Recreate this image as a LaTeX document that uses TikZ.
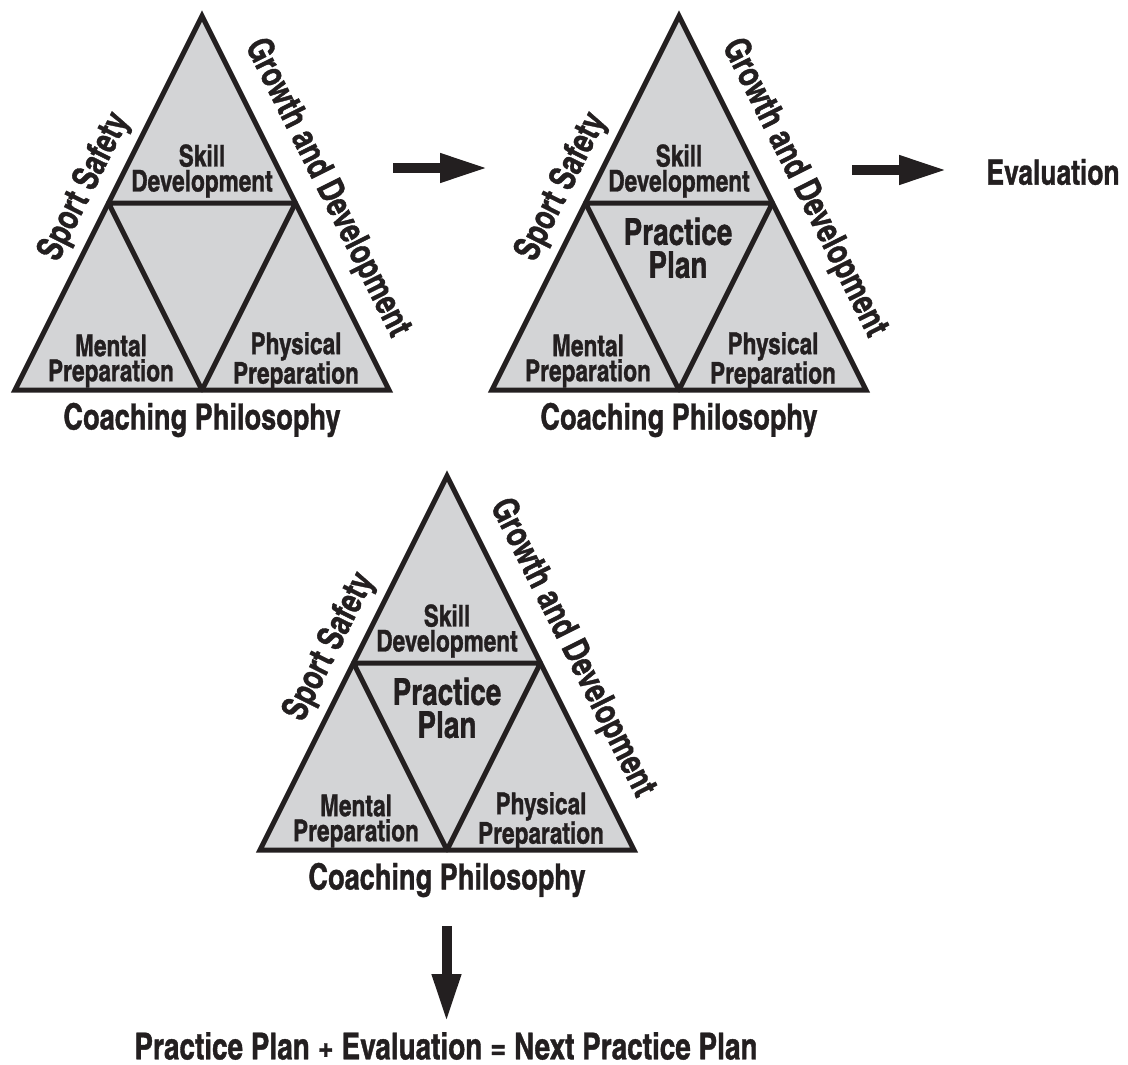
\documentclass[tikz,border=0pt]{standalone}
\usepackage{fontspec}
\usepackage{tikz}
\usetikzlibrary{arrows.meta}

\newfontfamily\cnbold{texgyreheroscn-bold}[Extension=.otf,FakeStretch=0.92,FakeBold=1]

\definecolor{ink}{RGB}{35,31,32}
\definecolor{panel}{RGB}{211,212,214}

% one triangle of the model, #1 = name prefix, #2 = shift
\newcommand{\pyramid}[2]{%
\begin{scope}[shift={#2}]
\coordinate (#1T) at (187,0);
\coordinate (#1L) at (0,374);
\coordinate (#1R) at (374,374);
\coordinate (#1ML) at (93.5,187);
\coordinate (#1MR) at (280.5,187);
\coordinate (#1MB) at (187,374);
\draw[tri] (#1T) -- (#1R) -- (#1L) -- cycle;
\draw[inner] (#1ML) -- (#1MR) -- (#1MB) -- cycle;
\node[lab] (#1skill) at (187,155) {Skill\\Development};
\node[lab] (#1mental) at (96,345) {Mental\\Preparation};
\node[lab] (#1physical) at (281,345) {Physical\\Preparation};
\node[big,rotate=63.43] (#1safety) at (70,171) {Sport Safety};
\node[big,rotate=-63.43] (#1growth) at (312,172) {Growth and Development};
\node[big] (#1phil) at (187,404) {Coaching Philosophy};
\end{scope}}

\begin{document}
\begin{tikzpicture}[x=1pt,y=-1pt,
  tri/.style={draw=ink,fill=panel,line width=5pt},
  inner/.style={draw=ink,line width=5pt,line join=round},
  lab/.style={font=\cnbold\fontsize{30}{25}\selectfont,align=center,inner sep=0pt,text=ink},
  big/.style={font=\cnbold\fontsize{36}{36}\selectfont,inner sep=0pt,text=ink},
  plan/.style={font=\cnbold\fontsize{37}{33}\selectfont,align=center,inner sep=0pt,text=ink},
  bigarrow/.style={draw=ink,line width=10pt,-{Triangle[length=48pt,width=27pt]}}]
\useasboundingbox (0,0) rectangle (1128,1065);

\pyramid{a}{(15,16)}
\pyramid{b}{(492,16)}
\pyramid{c}{(260,476)}

\node[plan] (bplan) at (678,248) {Practice\\Plan};
\node[plan] (cplan) at (447,708) {Practice\\Plan};

\node[big,font=\cnbold\fontsize{35}{35}\selectfont] (eval) at (1053,172) {Evaluation};
\node[big,font=\cnbold\fontsize{37}{37}\selectfont] (next) at (446,1046) {Practice Plan + Evaluation = Next Practice Plan};

% arrows
\coordinate (s1) at (393,168);
\coordinate (e1) at (488,168);
\coordinate (s2) at (852,170);
\coordinate (e2) at (947,170);
\coordinate (s3) at (446.5,926);
\coordinate (e3) at (446.5,1022);
\draw[bigarrow] (s1) -- (e1);
\draw[bigarrow] (s2) -- (e2);
\draw[bigarrow] (s3) -- (e3);
\end{tikzpicture}
\end{document}
